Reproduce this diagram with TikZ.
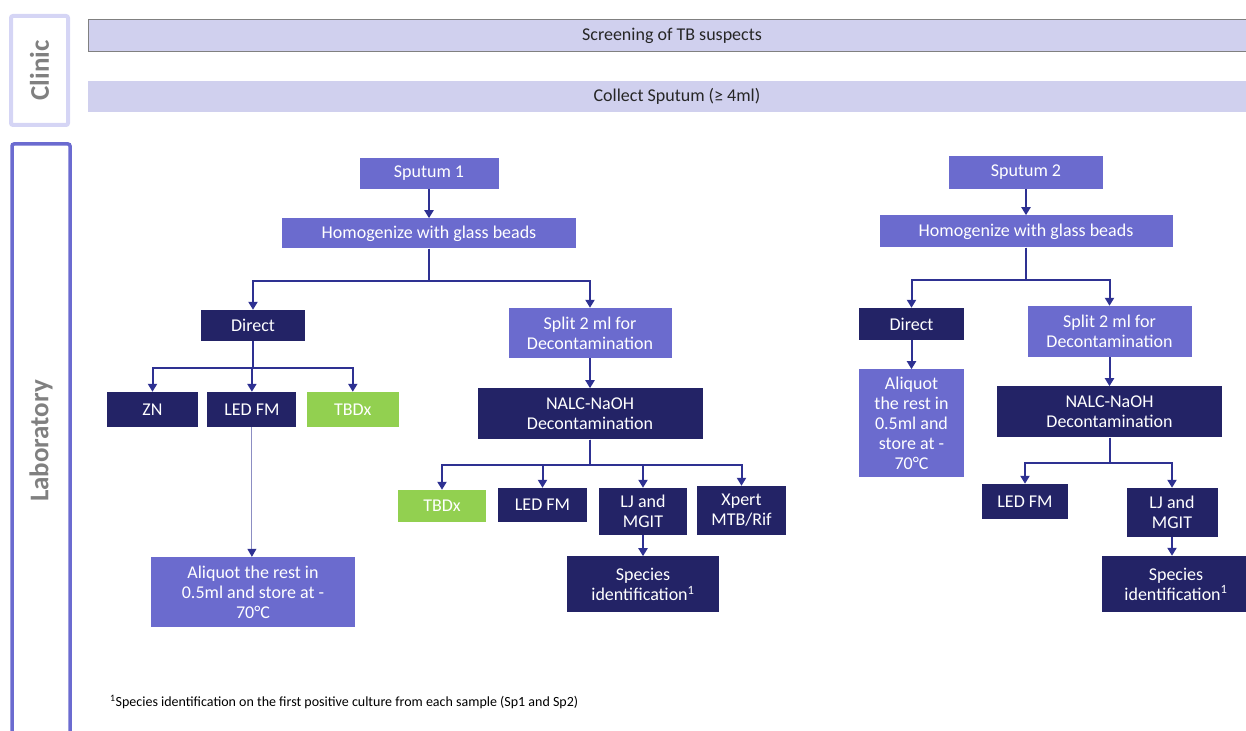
\documentclass[tikz,border=0pt]{standalone}
\usepackage{fontspec}
\setmainfont{Carlito}
\usetikzlibrary{positioning,arrows.meta}

\definecolor{midblue}{HTML}{6B6BCE}
\definecolor{navy}{HTML}{232366}
\definecolor{tbgreen}{HTML}{92D050}
\definecolor{barfill}{HTML}{D0D0EE}
\definecolor{arrowblue}{HTML}{2E3192}
\definecolor{clinicline}{HTML}{D5D5F5}
\definecolor{labline}{HTML}{6B6BD0}

\tikzset{
  box/.style={rectangle, inner sep=0pt, text=white, align=center, font=\fontsize{18}{20}\selectfont},
  lightbox/.style={box, fill=midblue},
  darkbox/.style={box, fill=navy},
  tbdxbox/.style={box, fill=tbgreen},
  bar/.style={rectangle, inner sep=0pt, fill=barfill, text=black!85, font=\fontsize{18}{20}\selectfont},
  sidebox/.style={rectangle, rounded corners=2pt, rotate=90, text=black!50, font=\fontsize{27}{30}\selectfont\bfseries},
  arr/.style={draw=arrowblue, line width=2pt, -{Triangle[width=9pt,length=8pt]}},
  thinarr/.style={draw=arrowblue!55, line width=1pt, -{Triangle[width=9pt,length=8pt,color=arrowblue]}}
}

\begin{document}
\begin{tikzpicture}[x=1pt, y=-1pt]
  \clip (0,0) rectangle (1246,730);

  \node[sidebox, draw=clinicline, line width=4pt, minimum width=109pt, minimum height=57pt] (clinic) at (39.5,70.5) {Clinic};
  \node[sidebox, draw=labline, line width=3.5pt, minimum width=594pt, minimum height=58pt] (lab) at (41,441) {Laboratory};

  \node[bar, draw=black!50, line width=1pt, minimum width=1168pt, minimum height=32pt] (screen) at (672,36) {Screening of TB suspects};
  \node[bar, minimum width=1178pt, minimum height=31pt] (collect) at (677,96.5) {Collect Sputum (≥ 4ml)};

  \node[lightbox, minimum width=139pt, minimum height=31pt] (sp1) at (429,173.5) {Sputum 1};
  \node[lightbox, minimum width=294pt, minimum height=30pt, below=29pt of sp1] (hom1) {Homogenize with glass beads};
  \node[darkbox, minimum width=104pt, minimum height=31pt] (dir1) at (253,325.5) {Direct};
  \node[lightbox, minimum width=163pt, minimum height=50pt] (spl1) at (590,333) {Split 2 ml for\\Decontamination};
  \node[darkbox, minimum width=91pt, minimum height=35pt] (zn) at (152.5,409.5) {ZN};
  \node[darkbox, minimum width=89pt, minimum height=35pt, right=9pt of zn] (led1) {LED FM};
  \node[tbdxbox, minimum width=92pt, minimum height=35pt, right=10pt of led1] (tbdx1) {TBDx};
  \node[lightbox, minimum width=204pt, minimum height=70pt] (ali1) at (253,592) {Aliquot the rest in\\0.5ml and store at -\\70°C};
  \node[darkbox, minimum width=225pt, minimum height=51pt, below=30pt of spl1] (nalc1) {NALC-NaOH\\Decontamination};
  \node[tbdxbox, minimum width=88pt, minimum height=32pt] (tbdx2) at (442,506) {TBDx};
  \node[darkbox, minimum width=89pt, minimum height=34pt] (led2) at (542.5,505) {LED FM};
  \node[darkbox, minimum width=88pt, minimum height=47pt] (lj1) at (643,511.5) {LJ and\\MGIT};
  \node[darkbox, minimum width=89pt, minimum height=49pt] (xpert) at (741.5,510.5) {Xpert\\MTB/Rif};
  \node[darkbox, minimum width=152pt, minimum height=56pt, below=21pt of lj1] (spec1) {Species\\identification\textsuperscript{1}};

  \node[lightbox, minimum width=154pt, minimum height=33pt] (sp2) at (1026,172.5) {Sputum 2};
  \node[lightbox, minimum width=293pt, minimum height=32pt, below=26pt of sp2] (hom2) {Homogenize with glass beads};
  \node[darkbox, minimum width=105pt, minimum height=32pt] (dir2) at (911.5,324) {Direct};
  \node[lightbox, minimum width=164pt, minimum height=51pt] (spl2) at (1109.5,331.5) {Split 2 ml for\\Decontamination};
  \node[lightbox, minimum width=105pt, minimum height=108pt, below=29pt of dir2] (ali2) {Aliquot\\the rest in\\0.5ml and\\store at -\\70°C};
  \node[darkbox, minimum width=225pt, minimum height=51pt, below=29pt of spl2] (nalc2) {NALC-NaOH\\Decontamination};
  \node[darkbox, minimum width=86pt, minimum height=35pt] (led3) at (1025,501.5) {LED FM};
  \node[darkbox, minimum width=91pt, minimum height=49pt] (lj2) at (1172,512.5) {LJ and\\MGIT};
  \node[darkbox, minimum width=148pt, minimum height=56pt] (spec2) at (1176,584) {Species\\identification\textsuperscript{1}};

  \node[anchor=west, inner sep=0pt, font=\fontsize{14}{16}\selectfont] (note) at (110,702) {\textsuperscript{1}Species identification on the first positive culture from each sample (Sp1 and Sp2)};

  \draw[arr] (sp1) -- (hom1);
  \draw[arr] (hom1.south) -- ++(0,32) -| (dir1);
  \draw[arr] (hom1.south) -- ++(0,32) -| (spl1);
  \draw[arr] (dir1.south) -- ++(0,27) -| (zn);
  \draw[arr] (dir1.south) -- ++(0,27) -| (led1);
  \draw[arr] (dir1.south) -- ++(0,27) -| (tbdx1);
  \draw[thinarr] (led1.south) -- (led1.south |- ali1.north);
  \draw[arr] (spl1) -- (nalc1);
  \draw[arr] (nalc1.south) -- ++(0,25) -| (tbdx2);
  \draw[arr] (nalc1.south) -- ++(0,25) -| (led2);
  \draw[arr] (nalc1.south) -- ++(0,25) -| (lj1);
  \draw[arr] (nalc1.south) -- ++(0,25) -| (xpert);
  \draw[arr] (lj1) -- (spec1);

  \draw[arr] (sp2) -- (hom2);
  \draw[arr] (hom2.south) -- ++(0,32) -| (dir2);
  \draw[arr] (hom2.south) -- ++(0,32) -| (spl2);
  \draw[arr] (dir2) -- (ali2);
  \draw[arr] (spl2) -- (nalc2);
  \draw[arr] (nalc2.south) -- ++(0,25) -| (led3);
  \draw[arr] (nalc2.south) -- ++(0,25) -| (lj2);
  \draw[arr] (lj2.south) -- (lj2.south |- spec2.north);
\end{tikzpicture}
\end{document}
